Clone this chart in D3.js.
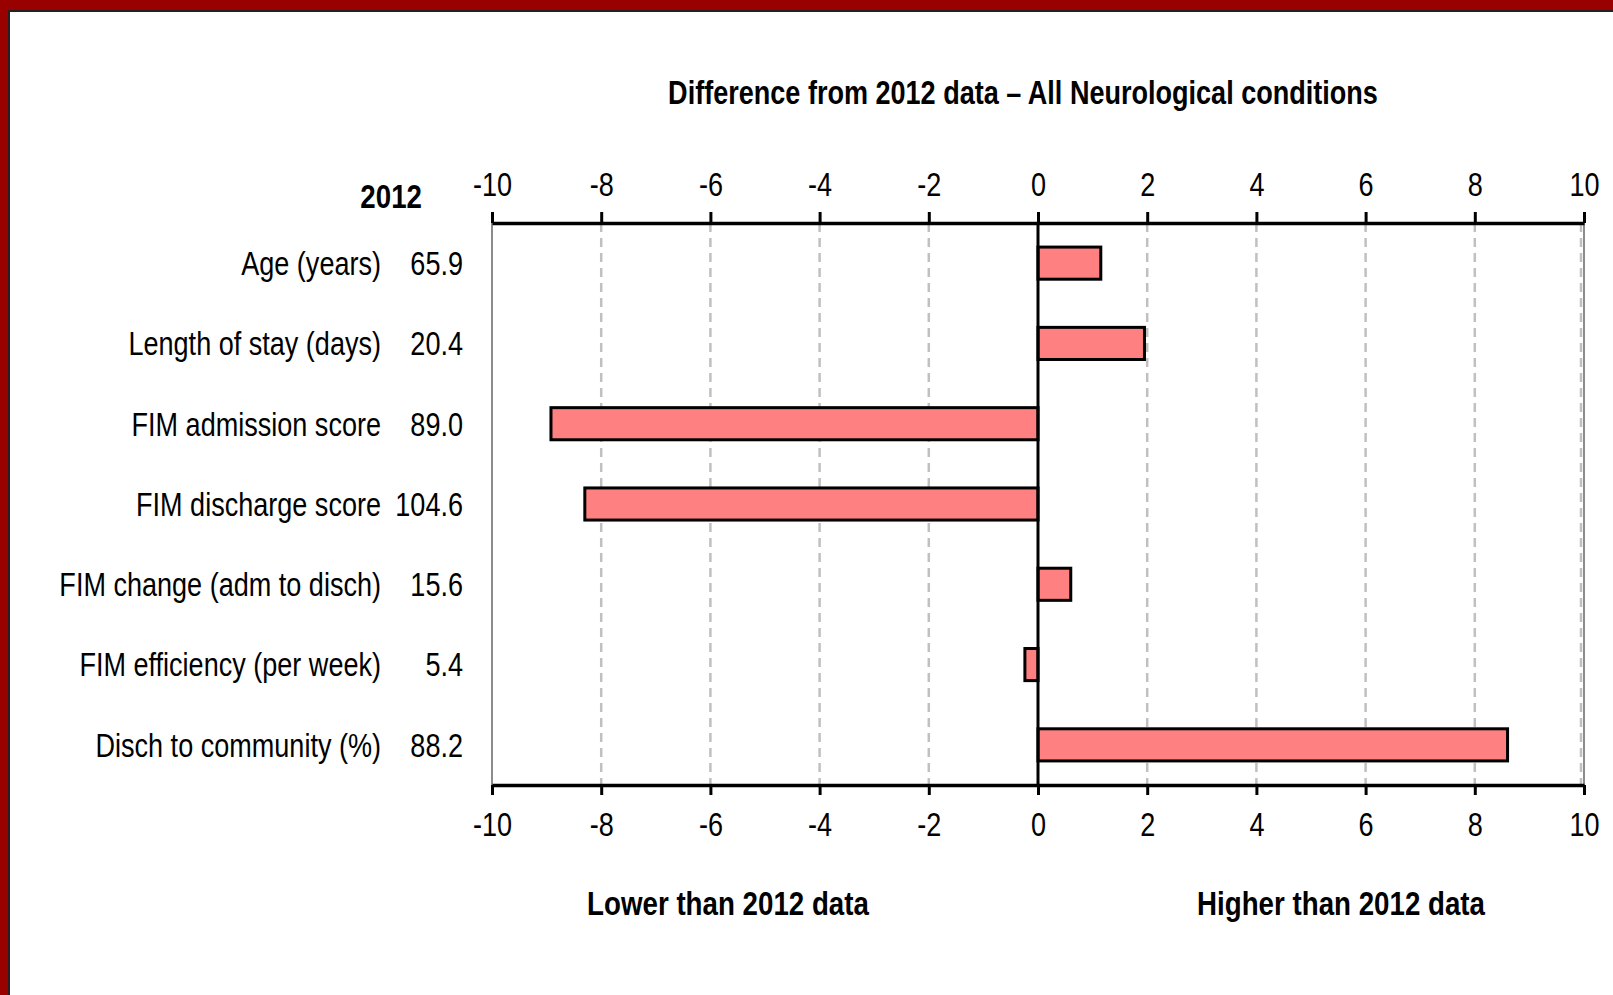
<!DOCTYPE html>
<html>
<head>
<meta charset="utf-8">
<script src="https://cdn.jsdelivr.net/npm/d3@7"></script>
<style>
  html, body { margin: 0; padding: 0; background: #fff; }
  svg text { font-family: "Liberation Sans Narrow", "Arial Narrow", "Liberation Sans", sans-serif; fill: #000; }
</style>
</head>
<body>
<svg id="chart" width="1613" height="995"></svg>
<script>
// measures and their 2012 reference values
const categories = ['Age (years)', 'Length of stay (days)', 'FIM admission score', 'FIM discharge score',
    'FIM change (adm to disch)', 'FIM efficiency (per week)', 'Disch to community (%)'];
const values2012 = ['65.9', '20.4', '89.0', '104.6', '15.6', '5.4', '88.2'];
// difference from 2012 data
const diffs = [1.15, 1.95, -8.92, -8.3, 0.6, -0.24, 8.6];
const tickValues = [-10, -8, -6, -4, -2, 0, 2, 4, 6, 8, 10];

const graphicopt = {
    width: 1613, height: 995,
    left: 492, right: 1584, top: 223, bottom: 785,
    fontSize: 33,
    squeeze: 0.82,      // narrow look, no condensed font installed
    squeezeBold: 0.84,
    barColor: '#ff8080'
};

const svg = d3.select('#chart');

// frame: dark red border on top/left, thin dark line inside
svg.append('rect').attr('x', 0).attr('y', 0).attr('width', graphicopt.width).attr('height', graphicopt.height).attr('fill', '#990000');
svg.append('rect').attr('x', 8).attr('y', 10).attr('width', graphicopt.width).attr('height', graphicopt.height).attr('fill', '#222');
svg.append('rect').attr('x', 10).attr('y', 12).attr('width', graphicopt.width).attr('height', graphicopt.height).attr('fill', '#fff');

const x = d3.scaleLinear().domain([-10, 10]).range([graphicopt.left, graphicopt.right]);
const y = d3.scaleBand().domain(categories).range([graphicopt.top, graphicopt.bottom]).paddingInner(0.6).paddingOuter(0.3);
const yRow = d3.scaleBand().domain(categories).range([graphicopt.top, graphicopt.bottom]);

function squeezed(sel, px, py, s) {
    return sel.attr('transform', (d, i) => `translate(${px(d, i)},${py(d, i)}) scale(${s},1)`);
}

const g = svg.append('g');

// plot border left/right (grey)
g.selectAll('line.border').data([-10, 10]).join('line')
    .attr('class', 'border')
    .attr('x1', d => x(d)).attr('x2', d => x(d))
    .attr('y1', graphicopt.top).attr('y2', graphicopt.bottom)
    .attr('stroke', '#8c8c8c').attr('stroke-width', 2);

// dashed gridlines
g.selectAll('line.grid').data(tickValues.filter(d => d !== 0 && d !== -10)).join('line')
    .attr('class', 'grid')
    .attr('x1', d => x(d) - (d === 10 ? 3 : 0)).attr('x2', d => x(d) - (d === 10 ? 3 : 0))
    .attr('y1', graphicopt.top).attr('y2', graphicopt.bottom)
    .attr('stroke', '#c0c0c0').attr('stroke-width', 2.5)
    .attr('stroke-dasharray', '9,6');

// bars
g.selectAll('rect.bar').data(diffs).join('rect')
    .attr('class', 'bar')
    .attr('x', d => x(Math.min(0, d)))
    .attr('width', d => Math.abs(x(d) - x(0)))
    .attr('y', (d, i) => y(categories[i]))
    .attr('height', y.bandwidth())
    .attr('fill', graphicopt.barColor)
    .attr('stroke', '#000').attr('stroke-width', 3);

// zero line
g.append('line')
    .attr('x1', x(0)).attr('x2', x(0))
    .attr('y1', graphicopt.top).attr('y2', graphicopt.bottom)
    .attr('stroke', '#000').attr('stroke-width', 3);

// top and bottom axes
const axisTop = d3.axisTop(x).tickValues(tickValues).tickSize(11).tickSizeOuter(0).tickPadding(16);
const axisBottom = d3.axisBottom(x).tickValues(tickValues).tickSize(10).tickSizeOuter(0).tickPadding(18);

function styleAxis(sel) {
    sel.select('.domain').attr('stroke', '#000').attr('stroke-width', 3.5);
    sel.selectAll('.tick line').attr('stroke', '#000').attr('stroke-width', 3);
    sel.selectAll('.tick text')
        .style('font-family', '"Liberation Sans Narrow", "Arial Narrow", "Liberation Sans", sans-serif')
        .style('font-size', graphicopt.fontSize + 'px').attr('fill', '#000')
        .attr('transform', `scale(${graphicopt.squeeze},1)`)
        .text(d => d < 0 ? '-' + Math.abs(d) : d);
}
svg.append('g').attr('transform', `translate(0,${graphicopt.top})`).call(axisTop).call(styleAxis);
svg.append('g').attr('transform', `translate(0,${graphicopt.bottom})`).call(axisBottom).call(styleAxis);

// category labels and 2012 values
const labels = svg.append('g').style('font-size', graphicopt.fontSize + 'px');
labels.selectAll('text.cat').data(categories).join('text')
    .attr('class', 'cat')
    .attr('dy', '0.36em')
    .attr('text-anchor', 'end')
    .text(d => d)
    .call(squeezed, () => 381, d => yRow(d) + yRow.bandwidth() / 2, graphicopt.squeeze);
labels.selectAll('text.val').data(values2012).join('text')
    .attr('class', 'val')
    .attr('dy', '0.36em')
    .attr('text-anchor', 'end')
    .text(d => d)
    .call(squeezed, () => 463, (d, i) => yRow(categories[i]) + yRow.bandwidth() / 2, graphicopt.squeeze);

svg.append('text')
    .attr('text-anchor', 'end')
    .style('font-size', graphicopt.fontSize + 'px').style('font-weight', 'bold')
    .text('2012')
    .call(squeezed, () => 422, () => 208, graphicopt.squeezeBold);

// title
svg.append('text')
    .attr('text-anchor', 'middle')
    .style('font-size', '33px').style('font-weight', 'bold')
    .text('Difference from 2012 data \u2013 All Neurological conditions')
    .call(squeezed, () => 1023, () => 104, 0.82);

// direction notes
svg.selectAll('text.note').data([['Lower than 2012 data', 728], ['Higher than 2012 data', 1341]]).join('text')
    .attr('class', 'note')
    .attr('text-anchor', 'middle')
    .style('font-size', graphicopt.fontSize + 'px').style('font-weight', 'bold')
    .text(d => d[0])
    .call(squeezed, d => d[1], () => 915, graphicopt.squeezeBold);
</script>
</body>
</html>
